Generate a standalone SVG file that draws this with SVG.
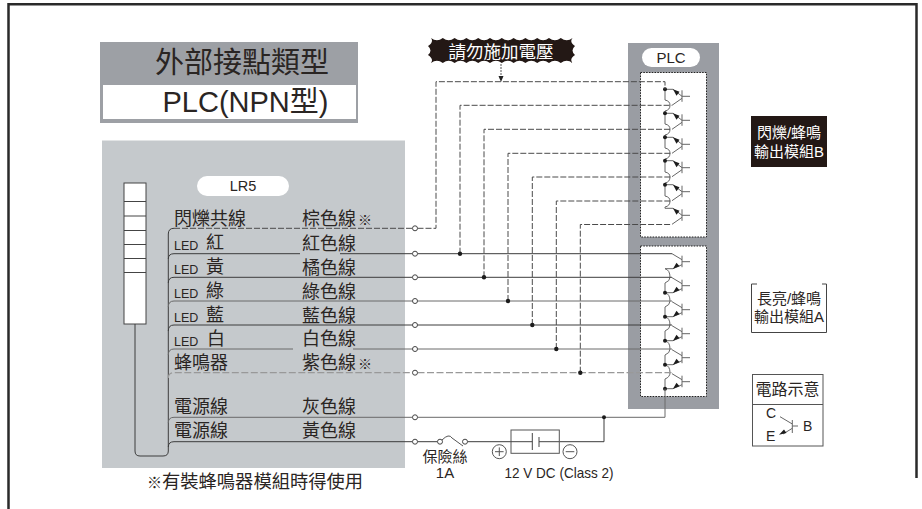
<svg xmlns="http://www.w3.org/2000/svg" width="922" height="509" viewBox="0 0 922 509">
<style>
text{font-family:"Liberation Sans","Noto Sans CJK TC",sans-serif;fill:#2a2523}
.l{font-size:18px}
.s{font-size:15px}
.led{font-size:12.5px}
.m{text-anchor:middle}
.w{fill:none;stroke:#3c3c3c;stroke-width:1}
.g{fill:none;stroke:#6a6a6a;stroke-width:1}
.d{fill:none;stroke:#4a4a4a;stroke-width:1;stroke-dasharray:6 2}
.p{fill:none;stroke:#999;stroke-width:1.2;stroke-dasharray:7 2.5}
.t{fill:none;stroke:#666;stroke-width:1}
.o{fill:#fff;stroke:#444;stroke-width:1}
.j{fill:#1c1c1c}
.b{fill:#fff;stroke:#222;stroke-width:1;stroke-dasharray:1.6 1.2}
</style>
<defs>
<g id="qu">
<path class="t" d="M0,0H8L17,7M17,1V12.500M17,7H25M17,9L7,16"/>
<polygon points="8,0 14.500,2.500 11.500,6.500" fill="#1c1c1c"/>
</g>
<g id="ql">
<path class="t" d="M0,0H8L17,-4M17,-13V-1.500M17,-7H25M17,-9L7,-15"/>
<polygon points="8,0 11.500,-6 14.500,-2.500" fill="#1c1c1c"/>
</g>
</defs>
<g id="frame"><path d="M8.500,509V4.300H916.500V478" fill="none" stroke="#2a2a2a" stroke-width="2.500"/></g>

<g id="title">
<rect x="100" y="42" width="258" height="81" fill="#9da0a5"/>
<rect x="103" y="85" width="253" height="34" fill="#fff"/>
<text x="242" y="73" font-size="29" class="m">外部接點類型</text>
<text x="245.500" y="112" font-size="29" class="m">PLC(NPN型)</text>
</g>

<g id="lr5">
<rect x="102" y="140.500" width="303" height="327.500" fill="#c5c9cc"/>
<rect x="197" y="176" width="92" height="20" rx="10" fill="#fff"/>
<text x="243" y="190.500" font-size="14.500" class="m">LR5</text>
</g>

<g id="tower">
<rect x="124" y="183" width="22" height="141" fill="#fff" stroke="#444" stroke-width="1"/>
<path d="M124,201.500H146M124,216H146M124,230.500H146M124,244.500H146M124,258.500H146M124,272.500H146" stroke="#444" fill="none"/>
</g>

<g id="plc">
<rect x="628" y="43" width="91" height="366" fill="#9a9da3"/>
<rect x="642" y="48" width="58" height="19" rx="9.500" fill="#fff"/>
<text x="671" y="63" font-size="15" class="m">PLC</text>
<rect class="b" x="640.500" y="72.500" width="66" height="164.500"/>
<rect class="b" x="640.500" y="246" width="66" height="150.500"/>
<path class="t" d="M665,89.300V100Q670,101 670,105.300Q670,110 665,111V113.300V124Q670,125 670,129.300Q670,134 665,135V137.300V148Q670,149 670,153.300Q670,158 665,159V160.700V172Q670,173 670,177Q670,182 665,183V184.700V196Q670,197 670,201Q670,206 665,207V208.300"/>
<use href="#qu" x="665" y="89.300"/><use href="#qu" x="665" y="113.300"/><use href="#qu" x="665" y="137.300"/><use href="#qu" x="665" y="160.700"/><use href="#qu" x="665" y="184.700"/><use href="#qu" x="665" y="208.300"/>
<g class="j"><circle cx="665" cy="89.300" r="2"/><circle cx="665" cy="113.300" r="2"/><circle cx="665" cy="137.300" r="2"/><circle cx="665" cy="160.700" r="2"/><circle cx="665" cy="184.700" r="2"/></g>
<path class="t" d="M665,268.700Q670,270 670,277.300Q670,281 665,283V292.700Q670,294 670,301Q670,305 665,307V316.700Q670,318 670,325Q670,329 665,331V340.700Q670,342 670,349Q670,353 665,355V364.700Q670,366 670,372.700Q670,377 665,379V388.700"/>
<use href="#ql" x="665" y="268.700"/><use href="#ql" x="665" y="292.700"/><use href="#ql" x="665" y="316.700"/><use href="#ql" x="665" y="340.700"/><use href="#ql" x="665" y="364.700"/><use href="#ql" x="665" y="388.700"/>
<g class="j"><circle cx="665" cy="292.700" r="2"/><circle cx="665" cy="316.700" r="2"/><circle cx="665" cy="340.700" r="2"/><circle cx="665" cy="364.700" r="2"/><circle cx="665" cy="388.700" r="2"/></g>
</g>

<g id="connectors">
<path class="w" d="M174,228.300Q168.300,228.300 168.300,234V451Q168.300,456 163,456H140Q135,456 135,451V324"/>
<path class="d" d="M174,228.300H412.500M417.500,228.300H436V81.700H665V89.300"/>
<path class="w" d="M168.300,259Q168.300,253.700 174,253.700H300M340,253.700H412.500M417.500,253.700H672"/>
<path class="w" d="M168.300,283Q168.300,277.300 174,277.300H412.500M417.500,277.300H672"/>
<path class="g" d="M168.300,307Q168.300,301 174,301H412.500M417.500,301H672"/>
<path class="w" d="M168.300,331Q168.300,325 174,325H412.500M417.500,325H672"/>
<path class="g" d="M168.300,355Q168.300,349 174,349H293M353,349H412.500M417.500,349H672"/>
<path class="p" d="M168.300,378Q168.300,372.700 174,372.700H412.500M417.500,372.700H672"/>
<path class="g" d="M168.300,423Q168.300,417.300 174,417.300H412.500M417.500,417.300H665V388.700"/>
<path class="w" d="M168.300,447Q168.300,441.700 174,441.700H412.500M417.500,441.700H437.500M467.500,441.700H511M559.300,441.700H604V417.300"/>
<path class="d" d="M460,253.700V105.300H672"/>
<path class="d" d="M484,277.300V129.300H672"/>
<path class="d" d="M508,301V153.300H672"/>
<path class="d" d="M532.300,325V177H672"/>
<path class="d" d="M556.300,349V201H672"/>
<path class="d" d="M580.300,372.700V224.500H672"/>
<path d="M442,440Q449,433 452,438L463,446" fill="none" stroke="#555"/>
<g class="o">
<circle cx="415" cy="228.300" r="2.500"/><circle cx="415" cy="253.700" r="2.500"/><circle cx="415" cy="277.300" r="2.500"/><circle cx="415" cy="301" r="2.500"/><circle cx="415" cy="325" r="2.500"/><circle cx="415" cy="349" r="2.500"/><circle cx="415" cy="372.700" r="2.500"/><circle cx="415" cy="417.300" r="2.500"/><circle cx="415" cy="441.700" r="2.500"/>
<circle cx="440" cy="441.700" r="2.500"/><circle cx="465" cy="441.700" r="2.500"/>
</g>
<g class="j">
<circle cx="460" cy="253.700" r="2.200"/><circle cx="484" cy="277.300" r="2.200"/><circle cx="508" cy="301" r="2.200"/><circle cx="532.300" cy="325" r="2.200"/><circle cx="556.300" cy="349" r="2.200"/><circle cx="580.300" cy="372.700" r="2.200"/><circle cx="604" cy="417.300" r="2"/>
</g>
<path d="M501,64V78" stroke="#555" stroke-dasharray="2 1" fill="none"/>
<polygon points="498.500,76 503.500,76 501,82" fill="#222"/>
</g>

<g id="lr5-labels">
<text x="174" y="225" class="l">閃爍共線</text><text x="302" y="225" class="l">棕色線</text><text x="358" y="225" font-size="14">※</text>
<text x="174" y="250" class="led">LED</text><text x="206" y="249" class="l">紅</text><text x="302" y="250" class="l">紅色線</text>
<text x="174" y="274" class="led">LED</text><text x="206" y="273" class="l">黃</text><text x="302" y="274" class="l">橘色線</text>
<text x="174" y="298" class="led">LED</text><text x="206" y="297" class="l">綠</text><text x="302" y="298" class="l">綠色線</text>
<text x="174" y="322" class="led">LED</text><text x="206" y="321" class="l">藍</text><text x="302" y="322" class="l">藍色線</text>
<text x="174" y="346" class="led">LED</text><text x="207" y="345" class="l">白</text><text x="302" y="345" class="l">白色線</text>
<text x="174" y="369" class="l">蜂鳴器</text><text x="302" y="369" class="l">紫色線</text><text x="358" y="369" font-size="14">※</text>
<text x="174" y="413" class="l">電源線</text><text x="302" y="413" class="l">灰色線</text>
<text x="174" y="437" class="l">電源線</text><text x="302" y="437" class="l">黃色線</text>
<text x="147" y="488" font-size="15">※</text><text x="162" y="488" font-size="18.300">有裝蜂鳴器模組時得使用</text>
</g>

<g id="warning">
<path fill="#231815" d="M431,38q5.900,4.500 11.800,0q5.900,4.500 11.800,0q5.900,4.500 11.800,0q5.900,4.500 11.800,0q5.900,4.500 11.800,0q5.900,4.500 11.800,0q5.900,4.500 11.800,0q5.900,4.500 11.800,0q5.900,4.500 11.800,0q5.900,4.500 11.800,0q5.900,4.500 11.800,0q5.900,4.500 11.800,0Q569,42 575,46Q570,50.500 575,55Q569,59 572.600,63q-5.900,-4.500 -11.800,0q-5.900,-4.500 -11.800,0q-5.900,-4.500 -11.800,0q-5.900,-4.500 -11.800,0q-5.900,-4.500 -11.800,0q-5.900,-4.500 -11.800,0q-5.900,-4.500 -11.800,0q-5.900,-4.500 -11.800,0q-5.900,-4.500 -11.800,0q-5.900,-4.500 -11.800,0q-5.900,-4.500 -11.800,0q-5.900,-4.500 -11.800,0Q434,59 428,55Q433,50.500 428,46Q434,42 431,38Z"/>
<text x="501" y="58" font-size="17.500" class="m" style="fill:#fff">請勿施加電壓</text>
</g>

<g id="module-b">
<rect x="751" y="116" width="76" height="51" fill="#231815"/>
<text x="789" y="138" class="s m" style="fill:#fff">閃爍/蜂鳴</text>
<text x="789" y="157" class="s m" style="fill:#fff">輸出模組B</text>
</g>

<g id="module-a">
<path d="M757,284H751.500V332.500H826.500V284H822" fill="#fff" stroke="#444"/>
<text x="789" y="304" class="s m">長亮/蜂鳴</text>
<text x="789" y="321.500" class="s m">輸出模組A</text>
</g>

<g id="legend">
<rect x="752.500" y="374.500" width="70.500" height="71.500" fill="#fff" stroke="#555"/>
<path d="M752.500,404.500H823" stroke="#555" fill="none"/>
<text x="787.500" y="395" font-size="16" class="m">電路示意</text>
<text x="766" y="418" font-size="14">C</text><text x="766" y="441" font-size="14">E</text><text x="803" y="431" font-size="14">B</text>
<path class="t" d="M780,416.700L792.300,424M792.300,420V433M792.300,426H798M792.300,428.300L783,434"/>
<polygon points="779,434.800 784,429.500 786.500,433" fill="#1c1c1c"/>
</g>

<g id="power">
<rect x="511" y="430" width="48.300" height="23.300" fill="none" stroke="#555"/>
<path d="M511,441.700H532.300M532.300,433V450M539,437V447M539,441.700H559" stroke="#444" fill="none"/>
<circle cx="499.300" cy="451.700" r="7" fill="#fff" stroke="#555"/><path d="M495,451.700H503.600M499.300,447.400V456" stroke="#555" fill="none"/>
<circle cx="570" cy="451.700" r="7" fill="#fff" stroke="#555"/><path d="M565.700,451.700H574.300" stroke="#555" fill="none"/>
<text x="445" y="462" font-size="15" class="m">保險絲</text>
<text x="445" y="478" font-size="15" class="m">1A</text>
<text x="504.500" y="478" font-size="15" textLength="109" lengthAdjust="spacingAndGlyphs">12 V DC (Class 2)</text>
</g>
</svg>
